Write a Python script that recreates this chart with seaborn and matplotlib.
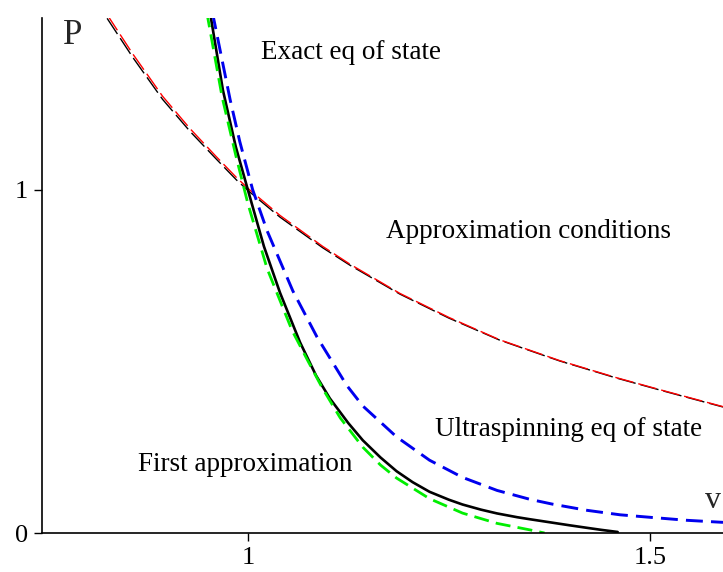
import matplotlib
matplotlib.use("Agg")
import matplotlib.pyplot as plt
import seaborn as sns

# Exact equation of state (solid black)
exact_v = [0.953, 0.969, 0.985, 1.000, 1.020, 1.040, 1.065, 1.085, 1.102, 1.125,
           1.143, 1.165, 1.185, 1.205, 1.226, 1.250, 1.267, 1.290, 1.310, 1.335,
           1.351, 1.379, 1.400, 1.422, 1.440, 1.460]
exact_p = [1.516, 1.290, 1.125, 1.000, 0.835, 0.700, 0.555, 0.458, 0.392, 0.320,
           0.270, 0.220, 0.180, 0.148, 0.120, 0.097, 0.083, 0.068, 0.057, 0.046,
           0.040, 0.030, 0.0225, 0.015, 0.009, 0.003]

# First approximation (green dashed)
first_v = [0.949, 0.968, 0.985, 1.000, 1.024, 1.055, 1.075, 1.092, 1.115, 1.143,
           1.165, 1.185, 1.226, 1.267, 1.310, 1.351, 1.369]
first_p = [1.516, 1.270, 1.100, 0.960, 0.770, 0.590, 0.500, 0.425, 0.335, 0.250,
           0.198, 0.160, 0.100, 0.058, 0.028, 0.009, 0.000]

# Ultraspinning equation of state (blue dashed)
ultra_v = [0.956, 0.978, 0.990, 1.006, 1.024, 1.056, 1.086, 1.123, 1.143, 1.185,
           1.226, 1.267, 1.310, 1.351, 1.379, 1.422, 1.463, 1.504, 1.546, 1.591]
ultra_p = [1.516, 1.262, 1.140, 1.000, 0.880, 0.705, 0.571, 0.430, 0.370, 0.280,
           0.212, 0.162, 0.124, 0.098, 0.084, 0.066, 0.053, 0.045, 0.037, 0.031]

# Approximation conditions (red and black thin dashed)
cond_v = [0.825, 0.857, 0.894, 0.928, 0.960, 0.986, 1.002, 1.040, 1.093, 1.127,
          1.189, 1.250, 1.313, 1.388, 1.459, 1.521, 1.591]
cond_red_p = [1.510, 1.395, 1.272, 1.178, 1.098, 1.035, 1.000, 0.925, 0.835, 0.783,
              0.698, 0.628, 0.563, 0.502, 0.452, 0.412, 0.368]
cond_black_p = [1.499, 1.385, 1.263, 1.170, 1.091, 1.028, 0.994, 0.920, 0.831, 0.780,
                0.696, 0.626, 0.562, 0.501, 0.451, 0.411, 0.367]

x_ticks = [1, 1.5]
x_tick_labels = ["1", "1.5"]
y_ticks = [0, 1]
y_tick_labels = ["0", "1"]

sns.set_style("ticks")
plt.rcParams["font.family"] = ["Liberation Serif", "DejaVu Serif"]

fig = plt.figure(figsize=(7.23, 5.72), dpi=100)
ax = fig.add_axes([42 / 723, 39 / 572, 681 / 723, 515 / 572])

sns.lineplot(x=cond_v, y=cond_black_p, ax=ax, sort=False, color="black",
             lw=1.0, linestyle=(0, (13.5, 3.6)))
sns.lineplot(x=cond_v, y=cond_red_p, ax=ax, sort=False, color="#ff0000",
             lw=1.0, linestyle=(0, (13.5, 3.6)))
sns.lineplot(x=exact_v, y=exact_p, ax=ax, sort=False, color="black", lw=1.9)
sns.lineplot(x=first_v, y=first_p, ax=ax, sort=False, color="#00ee00",
             lw=2.0, linestyle=(0, (5.4, 2.6)))
sns.lineplot(x=ultra_v, y=ultra_p, ax=ax, sort=False, color="#0000ee",
             lw=2.1, linestyle=(0, (5.8, 2.8)))

ax.set_xlim(0.744, 1.591)
ax.set_ylim(0, 1.5)
ax.set_xticks(x_ticks)
ax.set_xticklabels(x_tick_labels)
ax.set_yticks(y_ticks)
ax.set_yticklabels(y_tick_labels)
ax.tick_params(axis="both", labelsize=19, length=6, width=1, color="black",
               labelcolor="black", direction="out", pad=4)
sns.despine(ax=ax)
for side in ("left", "bottom"):
    ax.spines[side].set_color("black")
    ax.spines[side].set_linewidth(1.2)
ax.set_xlabel("")
ax.set_ylabel("")

txt = dict(fontsize=19.5, color="black", transform=ax.transData)
ax.text(0.770, 1.45, "P", fontsize=25, va="center", ha="left", transform=ax.transData)
ax.text(1.569, 0.095, "v", fontsize=23, va="center", ha="left", transform=ax.transData)
ax.text(1.017, 1.40, "Exact eq of state", va="center", ha="left", **txt)
ax.text(1.172, 0.879, "Approximation conditions", va="center", ha="left", **txt)
ax.text(1.233, 0.300, "Ultraspinning eq of state", va="center", ha="left", **txt)
ax.text(0.863, 0.199, "First approximation", va="center", ha="left", **txt)

fig.savefig("out.png", dpi=100)
